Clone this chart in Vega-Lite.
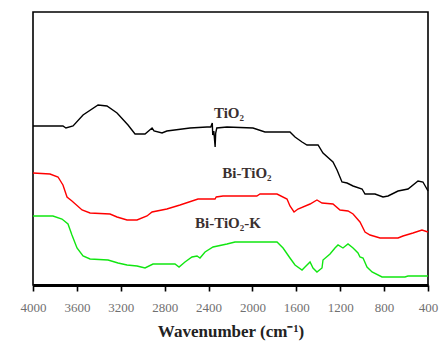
{
  "$schema": "https://vega.github.io/schema/vega-lite/v6.json",
  "width": 395,
  "height": 273,
  "autosize": "none",
  "padding": {"left": 33, "top": 12, "right": 13, "bottom": 58},
  "background": "white",
  "config": {"view": {"stroke": "black", "strokeWidth": 1.6}},
  "layer": [
    {
      "data": {"values": [
        {"s":"TiO2","w":4000,"a":159},{"s":"TiO2","w":3727,"a":159},{"s":"TiO2","w":3700,"a":157},{"s":"TiO2","w":3635,"a":159},{"s":"TiO2","w":3544,"a":170},{"s":"TiO2","w":3407,"a":180},{"s":"TiO2","w":3326,"a":179},{"s":"TiO2","w":3234,"a":172},{"s":"TiO2","w":3134,"a":160},{"s":"TiO2","w":3070,"a":151},{"s":"TiO2","w":2979,"a":151},{"s":"TiO2","w":2915,"a":157},{"s":"TiO2","w":2897,"a":154},{"s":"TiO2","w":2824,"a":152},{"s":"TiO2","w":2780,"a":154},{"s":"TiO2","w":2569,"a":157},{"s":"TiO2","w":2414,"a":158},{"s":"TiO2","w":2380,"a":158},{"s":"TiO2","w":2366,"a":162},{"s":"TiO2","w":2362,"a":150},{"s":"TiO2","w":2352,"a":154},{"s":"TiO2","w":2340,"a":138},{"s":"TiO2","w":2335,"a":152},{"s":"TiO2","w":2325,"a":157},{"s":"TiO2","w":2232,"a":158},{"s":"TiO2","w":1995,"a":157},{"s":"TiO2","w":1886,"a":153},{"s":"TiO2","w":1658,"a":153},{"s":"TiO2","w":1612,"a":148},{"s":"TiO2","w":1548,"a":143},{"s":"TiO2","w":1503,"a":140},{"s":"TiO2","w":1402,"a":140},{"s":"TiO2","w":1357,"a":132},{"s":"TiO2","w":1266,"a":123},{"s":"TiO2","w":1229,"a":115},{"s":"TiO2","w":1184,"a":103},{"s":"TiO2","w":1138,"a":102},{"s":"TiO2","w":1083,"a":99},{"s":"TiO2","w":1001,"a":96},{"s":"TiO2","w":974,"a":91},{"s":"TiO2","w":883,"a":91},{"s":"TiO2","w":810,"a":88},{"s":"TiO2","w":764,"a":89},{"s":"TiO2","w":673,"a":94},{"s":"TiO2","w":582,"a":96},{"s":"TiO2","w":491,"a":104},{"s":"TiO2","w":446,"a":103},{"s":"TiO2","w":410,"a":96},{"s":"TiO2","w":400,"a":94},
        {"s":"Bi-TiO2","w":4000,"a":112},{"s":"Bi-TiO2","w":3845,"a":111},{"s":"Bi-TiO2","w":3772,"a":108},{"s":"Bi-TiO2","w":3727,"a":100},{"s":"Bi-TiO2","w":3690,"a":88},{"s":"Bi-TiO2","w":3645,"a":84},{"s":"Bi-TiO2","w":3553,"a":75},{"s":"Bi-TiO2","w":3480,"a":72},{"s":"Bi-TiO2","w":3298,"a":71},{"s":"Bi-TiO2","w":3234,"a":68},{"s":"Bi-TiO2","w":3143,"a":65},{"s":"Bi-TiO2","w":3052,"a":65},{"s":"Bi-TiO2","w":2961,"a":69},{"s":"Bi-TiO2","w":2915,"a":73},{"s":"Bi-TiO2","w":2780,"a":76},{"s":"Bi-TiO2","w":2660,"a":80},{"s":"Bi-TiO2","w":2496,"a":86},{"s":"Bi-TiO2","w":2341,"a":86},{"s":"Bi-TiO2","w":2330,"a":88},{"s":"Bi-TiO2","w":2268,"a":89},{"s":"Bi-TiO2","w":1960,"a":89},{"s":"Bi-TiO2","w":1931,"a":91},{"s":"Bi-TiO2","w":1776,"a":91},{"s":"Bi-TiO2","w":1685,"a":86},{"s":"Bi-TiO2","w":1658,"a":79},{"s":"Bi-TiO2","w":1621,"a":73},{"s":"Bi-TiO2","w":1585,"a":76},{"s":"Bi-TiO2","w":1475,"a":81},{"s":"Bi-TiO2","w":1412,"a":85},{"s":"Bi-TiO2","w":1366,"a":82},{"s":"Bi-TiO2","w":1266,"a":81},{"s":"Bi-TiO2","w":1202,"a":75},{"s":"Bi-TiO2","w":1129,"a":74},{"s":"Bi-TiO2","w":1083,"a":71},{"s":"Bi-TiO2","w":1020,"a":63},{"s":"Bi-TiO2","w":974,"a":53},{"s":"Bi-TiO2","w":928,"a":50},{"s":"Bi-TiO2","w":837,"a":47},{"s":"Bi-TiO2","w":673,"a":47},{"s":"Bi-TiO2","w":628,"a":49},{"s":"Bi-TiO2","w":537,"a":52},{"s":"Bi-TiO2","w":455,"a":55},{"s":"Bi-TiO2","w":400,"a":53},
        {"s":"Bi-TiO2-K","w":4000,"a":69},{"s":"Bi-TiO2-K","w":3818,"a":69},{"s":"Bi-TiO2-K","w":3736,"a":66},{"s":"Bi-TiO2-K","w":3681,"a":61},{"s":"Bi-TiO2-K","w":3645,"a":50},{"s":"Bi-TiO2-K","w":3599,"a":37},{"s":"Bi-TiO2-K","w":3544,"a":29},{"s":"Bi-TiO2-K","w":3480,"a":26},{"s":"Bi-TiO2-K","w":3316,"a":25},{"s":"Bi-TiO2-K","w":3225,"a":22},{"s":"Bi-TiO2-K","w":3143,"a":20},{"s":"Bi-TiO2-K","w":3052,"a":19},{"s":"Bi-TiO2-K","w":2979,"a":17},{"s":"Bi-TiO2-K","w":2906,"a":21},{"s":"Bi-TiO2-K","w":2870,"a":21},{"s":"Bi-TiO2-K","w":2706,"a":21},{"s":"Bi-TiO2-K","w":2669,"a":18},{"s":"Bi-TiO2-K","w":2615,"a":23},{"s":"Bi-TiO2-K","w":2551,"a":28},{"s":"Bi-TiO2-K","w":2505,"a":29},{"s":"Bi-TiO2-K","w":2478,"a":27},{"s":"Bi-TiO2-K","w":2432,"a":33},{"s":"Bi-TiO2-K","w":2359,"a":38},{"s":"Bi-TiO2-K","w":2232,"a":41},{"s":"Bi-TiO2-K","w":2159,"a":43},{"s":"Bi-TiO2-K","w":2050,"a":43},{"s":"Bi-TiO2-K","w":1776,"a":43},{"s":"Bi-TiO2-K","w":1721,"a":37},{"s":"Bi-TiO2-K","w":1658,"a":27},{"s":"Bi-TiO2-K","w":1612,"a":20},{"s":"Bi-TiO2-K","w":1548,"a":15},{"s":"Bi-TiO2-K","w":1521,"a":18},{"s":"Bi-TiO2-K","w":1475,"a":23},{"s":"Bi-TiO2-K","w":1448,"a":17},{"s":"Bi-TiO2-K","w":1412,"a":13},{"s":"Bi-TiO2-K","w":1366,"a":17},{"s":"Bi-TiO2-K","w":1357,"a":25},{"s":"Bi-TiO2-K","w":1293,"a":31},{"s":"Bi-TiO2-K","w":1248,"a":37},{"s":"Bi-TiO2-K","w":1220,"a":40},{"s":"Bi-TiO2-K","w":1175,"a":37},{"s":"Bi-TiO2-K","w":1129,"a":41},{"s":"Bi-TiO2-K","w":1083,"a":37},{"s":"Bi-TiO2-K","w":1038,"a":32},{"s":"Bi-TiO2-K","w":1020,"a":28},{"s":"Bi-TiO2-K","w":992,"a":27},{"s":"Bi-TiO2-K","w":956,"a":18},{"s":"Bi-TiO2-K","w":910,"a":13},{"s":"Bi-TiO2-K","w":819,"a":8},{"s":"Bi-TiO2-K","w":610,"a":8},{"s":"Bi-TiO2-K","w":582,"a":9},{"s":"Bi-TiO2-K","w":400,"a":9}
      ]},
      "mark": {"type": "line", "strokeWidth": 1.4, "interpolate": "linear"},
      "encoding": {
        "x": {"field": "w", "type": "quantitative", "sort": null,
          "scale": {"domain": [4000, 400], "nice": false, "zero": false},
          "axis": {
            "title": "Wavenumber (cm⁻¹)",
            "values": [4000,3800,3600,3400,3200,3000,2800,2600,2400,2200,2000,1800,1600,1400,1200,1000,800,600,400],
            "labelExpr": "datum.value % 400 === 0 ? datum.value : ''",
            "tickSize": {"condition": {"test": "datum.value % 400 === 0", "value": 6}, "value": 4},
            "tickColor": "black", "tickWidth": 1.6,
            "domainColor": "black", "domainWidth": 3,
            "grid": false,
            "labelFont": "Liberation Serif", "labelFontSize": 13, "labelColor": "#707070",
            "labelPadding": 10, "labelFlush": false, "labelOverlap": false,
            "titleFont": "Liberation Serif", "titleFontSize": 17, "titleFontWeight": "bold",
            "titleColor": "#222", "titlePadding": 9
          }
        },
        "y": {"field": "a", "type": "quantitative",
          "scale": {"domain": [0, 273], "nice": false, "zero": false},
          "axis": null},
        "color": {"field": "s", "type": "nominal", "legend": null,
          "scale": {"domain": ["TiO2", "Bi-TiO2", "Bi-TiO2-K"], "range": ["#000000", "#ff0000", "#11e611"]}},
        "order": {"field": "w", "sort": "descending"}
      }
    },
    {
      "data": {"values": [
        {"label": "TiO₂", "w": 2214, "a": 172},
        {"label": "Bi-TiO₂", "w": 2050, "a": 112},
        {"label": "Bi-TiO₂-K", "w": 2223, "a": 62}
      ]},
      "mark": {"type": "text", "font": "Liberation Serif", "fontSize": 15, "fontWeight": "bold", "color": "#3a3030", "align": "center", "baseline": "middle"},
      "encoding": {
        "x": {"field": "w", "type": "quantitative"},
        "y": {"field": "a", "type": "quantitative"},
        "text": {"field": "label"}
      }
    }
  ]
}
